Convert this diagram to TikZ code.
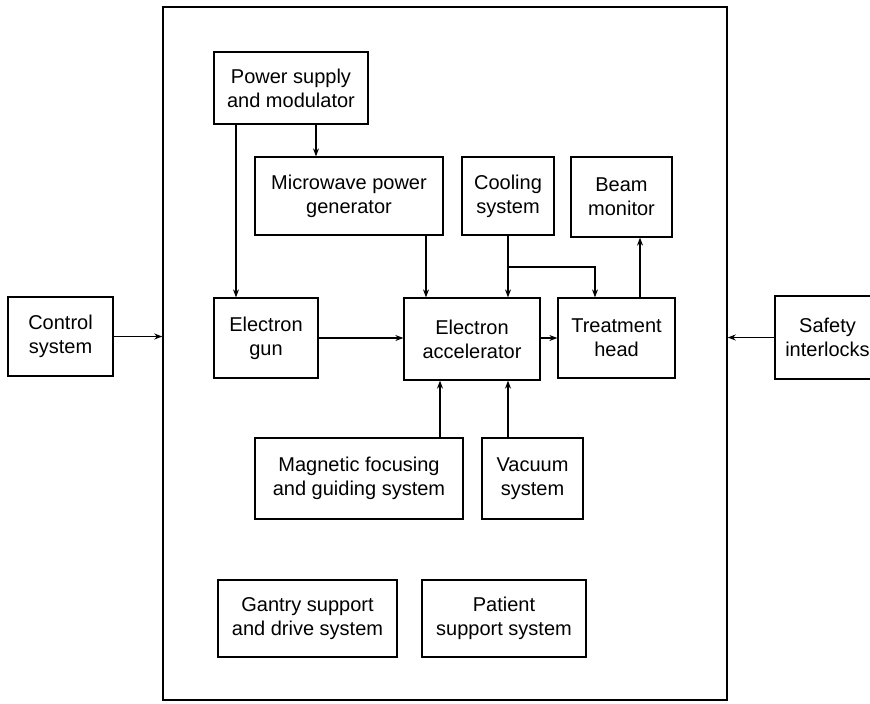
\documentclass[tikz,border=0pt]{standalone}
\usepackage{fontspec}
\setmainfont{Liberation Sans}
\usetikzlibrary{arrows.meta}
\begin{document}
\begin{tikzpicture}[x=1pt,y=-1pt,
  box/.style={draw, line width=1.3pt, align=center, inner sep=0pt,
    font=\fontsize{20}{24}\selectfont},
  arr/.style={line width=1.1pt, -{Stealth[length=8pt,width=6pt]}}]
\useasboundingbox (0,0) rectangle (870,704);
% enclosing machine outline
\node[draw, line width=1.5pt, minimum width=564pt, minimum height=693pt, inner sep=0pt] (linac) at (445,353.5) {};
% outside units
\node[box, minimum width=105pt, minimum height=79pt] (ctrl) at (60.5,336.5) {Control\\system};
\node[box, minimum width=105pt, minimum height=83pt] (safe) at (827.5,337.5) {Safety\\interlocks};
% internal subsystems
\node[box, minimum width=154pt, minimum height=72pt] (ps) at (291,88) {Power supply\\and modulator};
\node[box, minimum width=188pt, minimum height=78pt] (mw) at (349,196) {Microwave power\\generator};
\node[box, minimum width=92pt, minimum height=78pt] (cool) at (508,196) {Cooling\\system};
\node[box, minimum width=101pt, minimum height=80pt] (beam) at (621.5,197) {Beam\\monitor};
\node[box, minimum width=104pt, minimum height=80pt] (gun) at (266,338) {Electron\\gun};
\node[box, minimum width=136pt, minimum height=82pt] (acc) at (472,339) {Electron\\accelerator};
\node[box, minimum width=117pt, minimum height=80pt] (head) at (616.5,338) {Treatment\\head};
\node[box, minimum width=208pt, minimum height=81pt] (mag) at (359,478.5) {Magnetic focusing\\and guiding system};
\node[box, minimum width=101pt, minimum height=81pt] (vac) at (532.5,478.5) {Vacuum\\system};
\node[box, minimum width=179pt, minimum height=77pt] (gantry) at (307.5,618.5) {Gantry support\\and drive system};
\node[box, minimum width=164pt, minimum height=77pt] (patient) at (504,618.5) {Patient\\support system};
% connector guide columns
\coordinate (xgun) at (236,0);
\coordinate (xmw) at (316,0);
\coordinate (xacc) at (426,0);
\coordinate (xcool) at (508,0);
\coordinate (xhead) at (595,0);
\coordinate (xbeam) at (640,0);
\coordinate (xmag) at (440,0);
\coordinate (split) at (508,267);
% connectors
\draw[arr] (ctrl.east) -- (ctrl.east -| linac.west);
\draw[arr] (safe.west) -- (safe.west -| linac.east);
\draw[arr] (ps.south -| xmw) -- (mw.north -| xmw);
\draw[arr] (ps.south -| xgun) -- (gun.north -| xgun);
\draw[arr] (mw.south -| xacc) -- (acc.north -| xacc);
\draw[arr] (cool.south -| xcool) -- (acc.north -| xcool);
\draw[arr] (split) -| (head.north -| xhead);
\draw[arr] (head.north -| xbeam) -- (beam.south -| xbeam);
\draw[arr] (gun.east) -- (acc.west |- gun.east);
\draw[arr] (acc.east |- head.west) -- (head.west);
\draw[arr] (mag.north -| xmag) -- (acc.south -| xmag);
\draw[arr] (vac.north -| xcool) -- (acc.south -| xcool);
\end{tikzpicture}
\end{document}
